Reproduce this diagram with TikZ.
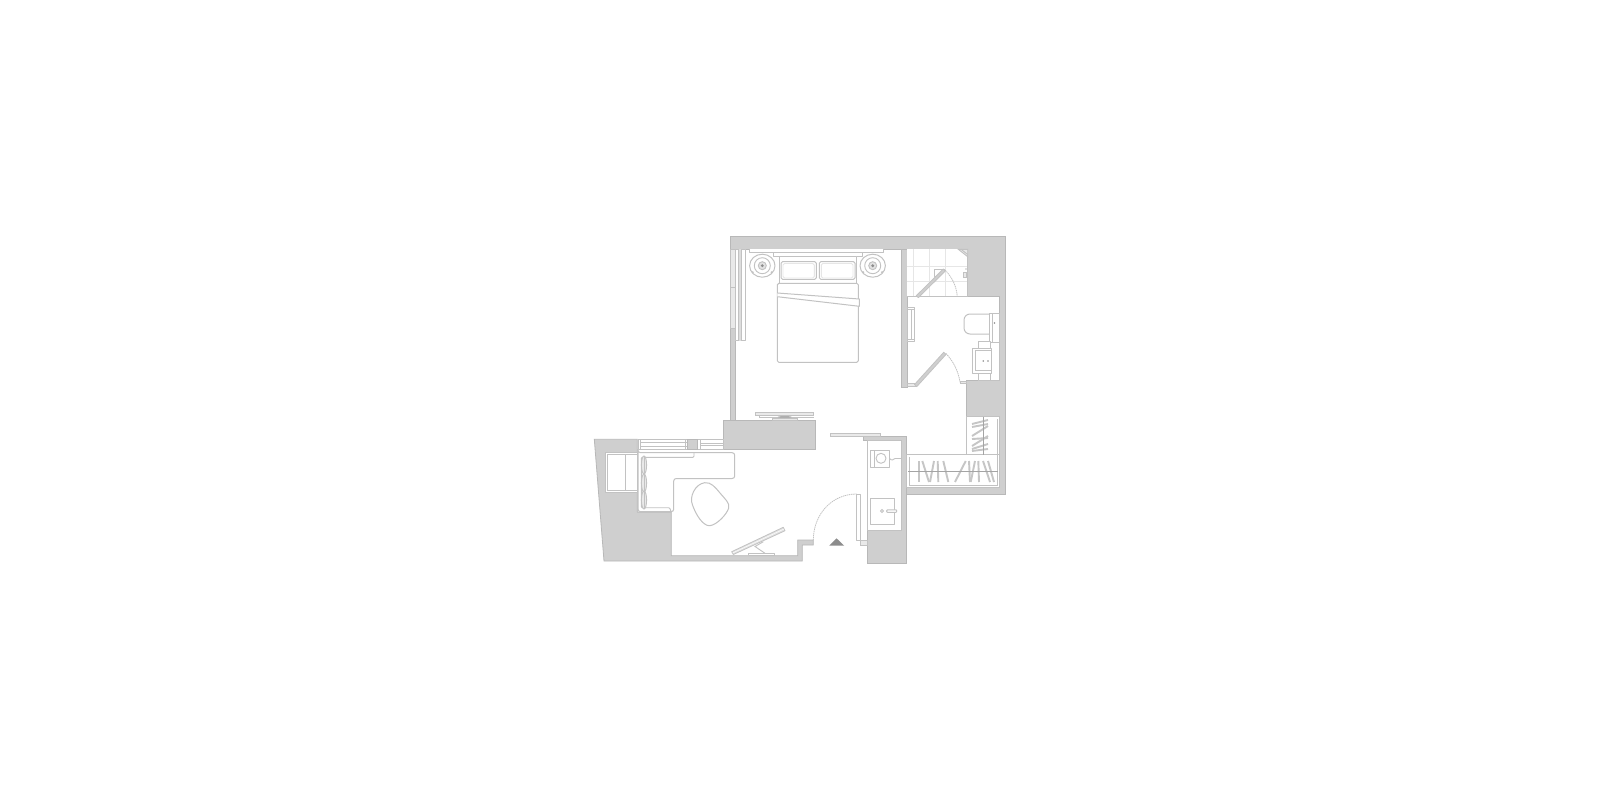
\documentclass[tikz,border=0pt]{standalone}
\definecolor{wallfill}{HTML}{CFCFCF}
\definecolor{wallline}{HTML}{B8B8B8}
\definecolor{ln}{HTML}{C2C2C2}
\definecolor{tile}{HTML}{E6E6E6}
\definecolor{hang}{HTML}{C6C6C6}
\definecolor{rail}{HTML}{A4A4A4}
\definecolor{darkgrey}{HTML}{8C8C8C}
\tikzset{
  wall/.style={fill=wallfill,draw=wallline,line width=0.8pt,line join=miter},
  thing/.style={draw=ln,line width=1pt,fill=white,line join=round},
  thin line/.style={draw=ln,line width=0.9pt},
  tileline/.style={draw=tile,line width=0.9pt},
  swing/.style={draw=ln,line width=0.8pt,dash pattern=on 1.4pt off 0.7pt},
  hanger/.style={draw=hang,line width=1.9pt},
  panel/.style={draw=ln,line width=0.9pt,fill=wallfill!45},
}
\begin{document}
\begin{tikzpicture}[x=1pt,y=-1pt]
\useasboundingbox (0,0) rectangle (1600,800);
\fill[white] (0,0) rectangle (1600,800);

% ---- walls
\draw[wall] (730,236.7) -- (1005,236.7) -- (1005,494) -- (906.7,494) -- (906.7,487) -- (999,487) -- (999,416.7) -- (966.7,416.7) -- (966.7,380.7) -- (999,380.7) -- (999,296.7) -- (967.7,296.7) -- (967.7,249.3) -- (730,249.3) -- cycle;
\draw[wall] (901,249.3) rectangle (907,387.7);
\draw[wall] (730,328) rectangle (735,420);
\draw[wall] (723.7,420) rectangle (815.7,449.3);
\draw[wall] (863.3,436) -- (906.7,436) -- (906.7,563) -- (867.3,563) -- (867.3,530) -- (901,530) -- (901,440) -- (863.3,440) -- cycle;
\draw[wall] (594.3,439.3) -- (637.3,439.3) -- (637.3,512) -- (671.3,512) -- (671.3,555.7) -- (797.7,555.7) -- (797.7,540) -- (813.3,540) -- (813.3,545) -- (802.3,545) -- (802.3,561) -- (604,561) -- cycle;

% ---- bedroom window and wardrobe
\draw[panel] (730,249.3) rectangle (735,287.7);
\draw[panel] (730,287.7) rectangle (735,328);
\draw[thing] (735,249.3) rectangle (745.7,340.7);
\fill[wallfill!70] (738,249.3) rectangle (741,340.7);
\draw[thin line] (738,249.3) -- (738,340.7) (741,249.3) -- (741,340.7);

% ---- bed
\draw[thing] (749.7,249.3) -- (749.7,252.7) -- (883,252.7) -- (883,249.3);
\draw[thing] (773,252.7) rectangle (862,256);
\draw[thing] (779,256) rectangle (856.7,283.3);
\draw[thing,rounded corners=1.5pt] (781,261.7) rectangle (816.3,279.3);
\draw[tileline,rounded corners=1.5pt] (783,263.5) rectangle (814.3,278);
\draw[thing,rounded corners=1.5pt] (819.3,261.7) rectangle (855,279.3);
\draw[tileline,rounded corners=1.5pt] (821.3,263.5) rectangle (853,278);
\draw[thing,rounded corners=1.5pt] (777.3,283.3) rectangle (858.3,362.3);
\draw[thing] (777.3,293) -- (859.3,299) -- (859.3,306.3) -- (777.3,296.7);

% ---- bedside tables
\foreach \cx in {762.3,872.7}{
  \draw[thing] (\cx,265.7) circle [x radius=12.7,y radius=11.5];
  \draw[thin line] (\cx,265.7) circle [radius=8];
  \draw[thin line,fill=wallfill!60] (\cx,265.7) circle [radius=4];
  \fill[darkgrey] (\cx,265.7) circle [radius=1.6];
  \fill[ln] (\cx-9.6,272.3) circle (1.2) (\cx+9.4,272.3) circle (1.2);
}

% ---- bedroom TV
\draw[panel] (755.7,412) rectangle (813.7,415.3);
\draw[thin line] (759.7,415.3) -- (759.7,417.5) -- (813.7,417.5);
\draw[panel] (772.3,418.3) rectangle (797.3,420);
\fill[darkgrey!70] (784.7,417) ellipse [x radius=7,y radius=1];

% ---- shower
\fill[white] (907,249.3) rectangle (967.7,296.7);
\draw[tileline] (913,249.3) -- (913,296.7) (929.3,249.3) -- (929.3,296.7) (945.5,249.3) -- (945.5,296.7);
\draw[tileline] (907,266) -- (967.7,266) (907,281.7) -- (967.7,281.7);
\draw[thin line] (907,296.7) -- (967.7,296.7) (967.7,249.3) -- (967.7,296.7);
\draw[panel] (958.3,249.3) -- (967.7,249.3) -- (967.7,256.7) -- cycle;
\draw[thin line] (961,249.3) -- (967.7,254.5);
\draw[thing] (945,269.3) -- (934.3,269.3) -- (934.3,276.7) -- (938,276.7);
\draw[panel] (963.3,272) rectangle (966,277.5);
\fill[ln] (966,269) circle (0.9);
\draw[thing,line width=0.8pt,fill=wallfill] (916.3,295.7) -- (943.3,269) -- (945.3,271) -- (918.3,297.7) -- cycle;
\draw[swing] (945,270) .. controls (952,277) and (956.5,286) .. (957.3,296.7);

% ---- bathroom
\draw[thing] (907,307.7) rectangle (914.3,341.7);
\draw[thin line] (911.7,309.7) -- (911.7,339.7) (907,309.7) -- (914.3,309.7) (907,339.7) -- (914.3,339.7);
\draw[thing,rounded corners=6pt] (992,314) -- (964,314) -- (964,334) -- (992,334);
\draw[thing] (989.5,313) rectangle (999,342);
\draw[thin line] (992.5,313) -- (992.5,342);
\fill[darkgrey] (994.5,323) circle (0.9);
\draw[thing] (990,342) rectangle (999,380.7);
\draw[thing] (978.3,341) rectangle (990,348);
\draw[thing] (978.3,373) rectangle (990,380.7);
\draw[thing] (972.7,348) rectangle (991,373);
\draw[thin line] (975,350.5) rectangle (991,370.5);
\fill[darkgrey] (983.3,361) circle (0.9) (988,361) circle (0.9);

% bathroom door
\draw[panel] (907,383.3) rectangle (916,386);
\draw[thing,line width=0.8pt,fill=wallfill] (914.5,384.5) -- (943.7,352.3) -- (946,354.4) -- (916.8,386.6) -- cycle;
\draw[swing] (946,353.5) .. controls (953,361) and (958.5,371) .. (960,382.3);
\draw[panel] (960,381) rectangle (966.7,383.5);

% ---- closets
\draw[thing] (966.7,416.7) rectangle (999,454.7);
\draw[thing] (906.7,454.7) rectangle (999,487);
\draw[thin line] (909,457) -- (909,485) -- (997,485) -- (997,418.5);
\foreach \xa/\ya/\xb/\yb in {972/424/988/420, 972/427/988/424, 972/436/988/426, 972/439/988/438, 972/446/988/436, 972/449/988/444, 972/451/988/449}
  \draw[hanger] (\xa,\ya) -- (\xb,\yb);
\draw[draw=rail,line width=0.7pt] (983.3,416.7) -- (983.3,454.7);
\foreach \xa/\xb in {919/919, 922.3/929, 934/930, 937.7/938.3, 943.3/948.3, 965.7/955, 969/970, 975/970.7, 978.3/979, 983/990, 988/994}
  \draw[hanger] (\xa,461) -- (\xb,482);
\draw[draw=rail,line width=0.7pt] (908.3,471) -- (998,471);

% ---- entry cabinet
\draw[panel] (830,433) rectangle (880.7,436);
\draw[thing] (867.3,440) rectangle (901,530);
\draw[thing] (870.7,450) rectangle (889.3,467.3);
\draw[thin line] (874,450) -- (874,467.3);
\draw[thin line] (881,458.3) circle (5);
\draw[thin line] (889.3,458.3) .. controls (892,461) and (893,460) .. (895,458.5) .. controls (897,457.5) and (899,459.5) .. (901,458.5);
\draw[thing] (870.7,498.3) rectangle (894,524.3);
\draw[thin line] (882,511) circle (1.5);
\draw[thing,rounded corners=0.8pt] (886.7,509.8) rectangle (896.7,512.3);

% entry door
\draw[thing] (856.7,494) rectangle (860,540);
\draw[panel] (860,540) rectangle (867.3,545.7);
\draw[swing] (856.7,494) .. controls (832,494) and (813.5,514) .. (813.3,540);
\fill[darkgrey] (836.5,538.3) -- (844,545.5) -- (829.3,545.5) -- cycle;

% ---- living room window
\draw[thing] (638,439.3) rectangle (723.7,449.3);
\draw[thin line] (640.5,439.3) -- (640.5,449.3);
\draw[thin line] (640.5,442.7) -- (687,442.7) (640.5,446) -- (687,446);
\draw[thin line] (700,443) -- (723.7,443) (700,445.7) -- (723.7,445.7) (700,439.3) -- (700,449.3);
\draw[wall] (687,439.3) rectangle (697,449.3);
\draw[thin line] (685,439.3) -- (685,449.3);

% side window in the thick wall
\draw[thing] (605.7,452.7) rectangle (637.3,492.3);
\draw[thin line] (607.5,454.5) rectangle (637.3,490.5);
\draw[thin line] (625,454.5) -- (625,490.5);

% ---- desk and sofa
\draw[thing,rounded corners=2.5pt] (638,449.3) |- (734.7,452.7) |- (673.7,478.5) |- (638,511.7) -- cycle;
\draw[thin line] (637.6,449.3) -- (637.6,512) -- (671.3,512);
\draw[thin line,rounded corners=1pt] (694,452.7) -- (694,457.3) -- (641.3,457.3) -- (641.3,507.7) -- (669.7,507.7) -- (671,511.7);
\foreach \cy in {465,483,500}{
  \draw[thin line,fill=wallfill!45] (644,\cy) ellipse [x radius=2.6,y radius=9];
  \draw[thin line] (644,\cy-9) -- (644,\cy+9);
}

% chair
\draw[thing] (704.7,482.7) .. controls (711,482) and (715,487) .. (720,493) .. controls (725,499) and (730,503) .. (728.7,508) .. controls (727,514) and (717,525) .. (709.7,525.7) .. controls (703,526) and (696,515) .. (692.5,505) .. controls (689,497) and (695,484) .. (704.7,482.7) -- cycle;

% ---- lower TV
\draw[thin line] (763.3,541.7) -- (755,546.5) -- (765,553.3);
\draw[thing] (748.3,553.3) rectangle (774,555.7);
\draw[thing,line width=0.8pt,fill=wallfill!60] (731.7,551.7) -- (783.3,527.3) -- (785,530.7) -- (733.3,554.5) -- cycle;
\draw[draw=white,line width=0.5pt] (732.6,553) -- (784,529);
\end{tikzpicture}
\end{document}
